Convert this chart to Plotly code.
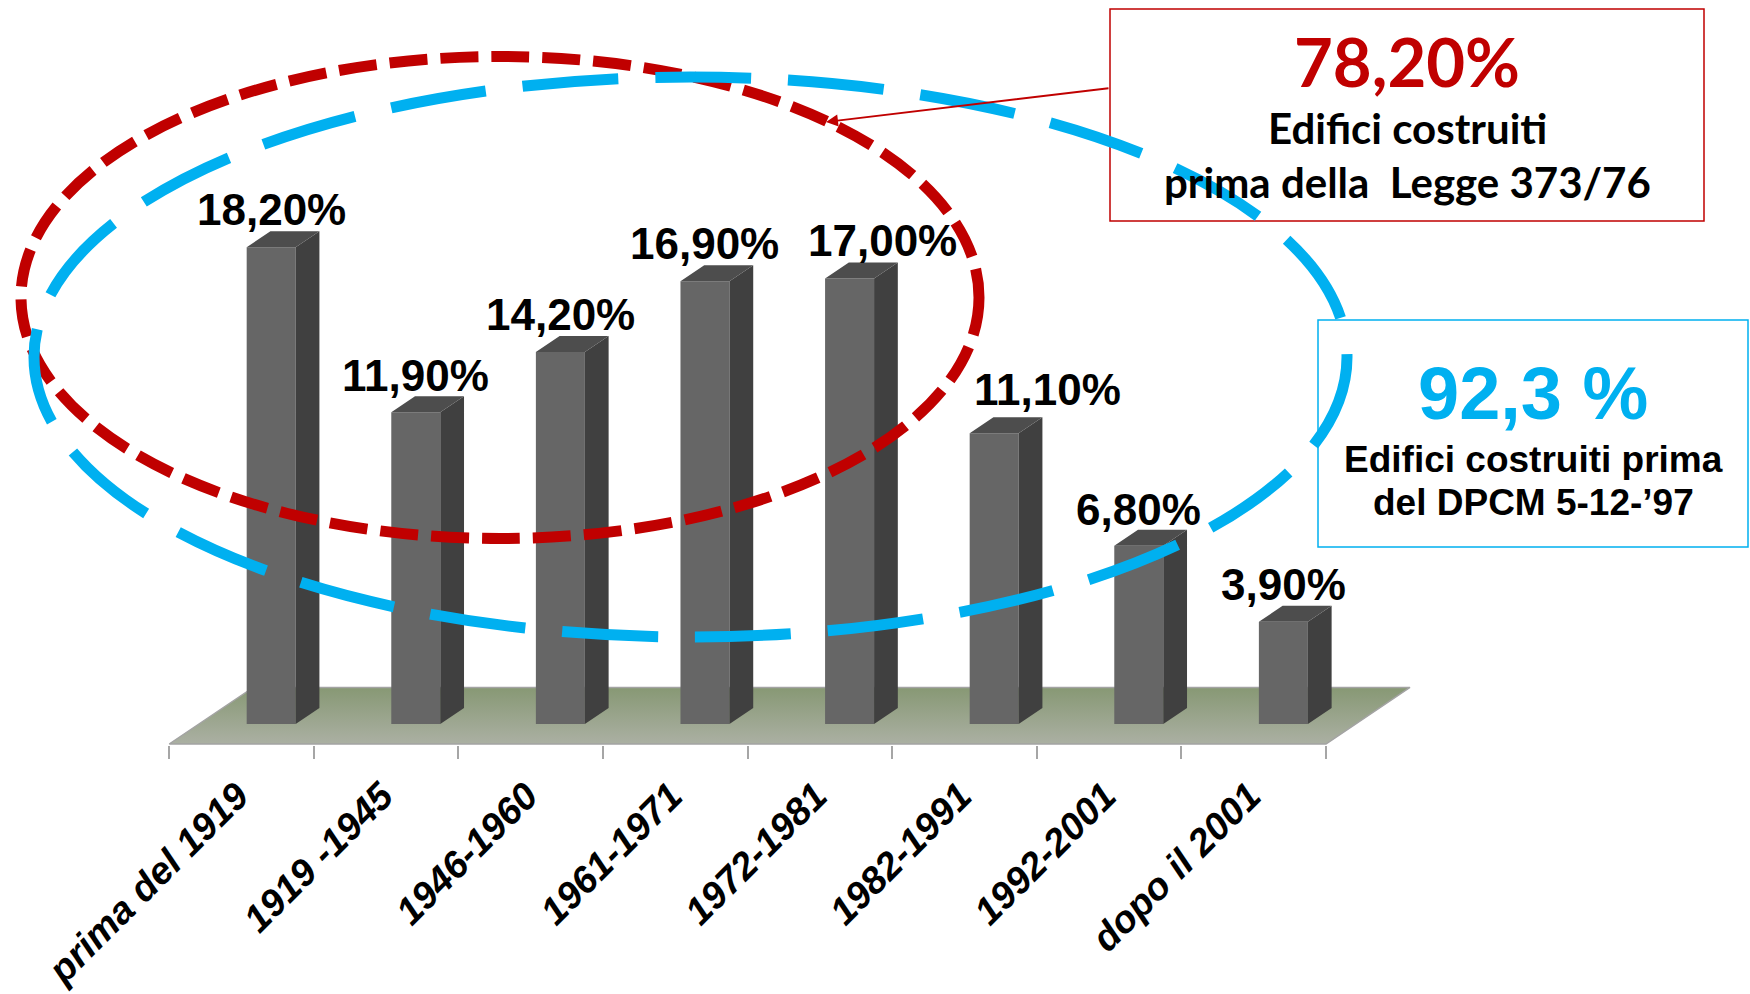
import plotly.graph_objects as go

# --- data -------------------------------------------------------------
categories = ["prima del 1919", "1919 -1945", "1946-1960", "1961-1971",
              "1972-1981", "1982-1991", "1992-2001", "dopo il 2001"]
shares = [18.2, 11.9, 14.2, 16.9, 17.0, 11.1, 6.8, 3.9]

# buildings before Law 373/76 = first five periods
pre_law_count = 5
pre_dpcm_share_text = "92,3 %"

# --- canvas / projection (pixels) --------------------------------------
W, H = 1750, 994
X0, SX = 241.5, 144.6     # px of category 0 at floor front, px per category
Y0, SY = 744.0, 26.2      # px of value 0 at floor front, px per percent point
PLOT_BOTTOM = 745
OBL = 1.484               # oblique x-shift per px of depth
FLOOR_DEPTH = 56.6
BAR_FRONT = 20.0
BAR_DEPTH = 16.0
BAR_W = 49.0


def xd(px):
    return (px - X0) / SX


def yd(py):
    return (Y0 - py) / SY


def pct(v):
    return f"{v:.2f}".replace(".", ",") + "%"


FRONT = "#666666"
SIDE = "#404040"
TOP = "#4d4d4d"
RED = "#c00000"
BLUE = "#00b0f0"
ARIAL = "Liberation Sans, Arial, sans-serif"
CALIBRI = "Lato, Carlito, Calibri, sans-serif"

fig = go.Figure()

# floor
fdx, fdy = FLOOR_DEPTH * OBL / SX, FLOOR_DEPTH / SY
n = len(categories)
fig.add_trace(go.Scatter(
    x=[-0.5, n - 0.5, n - 0.5 + fdx, -0.5 + fdx, -0.5],
    y=[0, 0, fdy, fdy, 0],
    mode="lines", fill="toself",
    line=dict(color="#a3a3a3", width=1.5),
    fillgradient=dict(type="vertical",
                      colorscale=[[0, "#abb0a3"], [1, "#879874"]]),
    hoverinfo="skip", showlegend=False))

# bars: front, side and top faces of each prism
bx0 = BAR_FRONT * OBL / SX
by0 = BAR_FRONT / SY
bw = BAR_W / SX
ddx, ddy = BAR_DEPTH * OBL / SX, BAR_DEPTH / SY
centers = [i + bx0 for i in range(n)]

fx, fy, sx, sy, tx, ty = [], [], [], [], [], []
for c, v in zip(centers, shares):
    xl, xr = c - bw / 2, c + bw / 2
    top = by0 + v
    fx += [xl, xr, xr, xl, xl, None]
    fy += [by0, by0, top, top, by0, None]
    sx += [xr, xr + ddx, xr + ddx, xr, xr, None]
    sy += [by0, by0 + ddy, top + ddy, top, by0, None]
    tx += [xl, xr, xr + ddx, xl + ddx, xl, None]
    ty += [top, top, top + ddy, top + ddy, top, None]

for px_, py_, col in ((fx, fy, FRONT), (sx, sy, SIDE), (tx, ty, TOP)):
    fig.add_trace(go.Scatter(x=px_, y=py_, mode="lines", fill="toself",
                             fillcolor=col, line=dict(width=0, color=col),
                             hoverinfo="skip", showlegend=False))

# value labels (px nudges for the two crowded ones)
label_dx = [0, 0, 0, 0, 33, 53, 0, 0]
label_dy = [38, 37, 37, 38, 38, 44, 36, 37]
annotations = []
for c, v, dx, dy in zip(centers, shares, label_dx, label_dy):
    annotations.append(dict(
        x=c, y=by0 + v, xref="x", yref="y", text=pct(v), showarrow=False,
        xshift=dx, yshift=dy, xanchor="center", yanchor="middle",
        font=dict(family=ARIAL, size=44, color="black", weight="bold")))

# callout boxes
pre_law_total = round(sum(shares[:pre_law_count]), 2)
box_text = [
    (pct(pre_law_total), 1407, 61, CALIBRI, 67, RED),
    ("Edifici costruiti", 1407, 128, CALIBRI, 42, "black"),
    ("prima della&nbsp;&nbsp;Legge 373/76", 1407, 182, CALIBRI, 42, "black"),
    (pre_dpcm_share_text, 1533, 393, ARIAL, 74, BLUE),
    ("Edifici costruiti prima", 1533, 459, ARIAL, 37, "black"),
    ("del DPCM 5-12-\u201997", 1533, 502, ARIAL, 37, "black"),
]
for t, px, py, fam, size, col in box_text:
    annotations.append(dict(
        x=xd(px), y=yd(py), xref="x", yref="y", text=t, showarrow=False,
        xanchor="center", yanchor="middle",
        font=dict(family=fam, size=size, color=col, weight="bold")))

# leader arrow from the red box to the red ellipse
annotations.append(dict(
    x=xd(826), y=yd(122), ax=xd(1110), ay=yd(88), axref="x", ayref="y",
    xref="x", yref="y", text="", showarrow=True, arrowhead=2,
    arrowsize=1.2, arrowwidth=2, arrowcolor=RED))

shapes = [
    dict(type="rect", xref="x", yref="y", x0=xd(1110), x1=xd(1704),
         y0=yd(9), y1=yd(221), line=dict(color=RED, width=1.5),
         layer="below"),
    dict(type="rect", xref="x", yref="y", x0=xd(1318), x1=xd(1748),
         y0=yd(320), y1=yd(547), line=dict(color=BLUE, width=1.5),
         layer="below"),
    # ellipses around the groups of periods
    dict(type="circle", xref="x", yref="y",
         x0=xd(500 - 479), x1=xd(500 + 479),
         y0=yd(297.5 - 241), y1=yd(297.5 + 241),
         line=dict(color=RED, width=11, dash="38px,13px"), layer="above"),
    dict(type="circle", xref="x", yref="y",
         x0=xd(690.5 - 656.5), x1=xd(690.5 + 656.5),
         y0=yd(357 - 280), y1=yd(357 + 280),
         line=dict(color=BLUE, width=11, dash="96px,37px"), layer="above"),
]

fig.update_layout(
    template="none",
    width=W, height=H,
    margin=dict(l=0, r=0, t=0, b=H - PLOT_BOTTOM, pad=0, autoexpand=False),
    paper_bgcolor="white", plot_bgcolor="white",
    showlegend=False,
    xaxis=dict(range=[xd(0), xd(W)], showgrid=False, zeroline=False,
               showline=False, tickvals=[i - 0.5 for i in range(n + 1)],
               ticks="outside", ticklen=13, tickwidth=1.5,
               tickcolor="#a6a6a6", showticklabels=False, fixedrange=True,
               automargin=False),
    xaxis2=dict(range=[xd(0), xd(W)], overlaying="x", anchor="y",
                side="bottom", showgrid=False, zeroline=False,
                showline=False, ticks="", tickvals=list(range(n)),
                ticktext=categories, tickangle=-45, ticklabelstandoff=20,
                ticklabelshift=-4,
                tickfont=dict(family=ARIAL, size=38, color="black",
                              weight="bold", style="italic"),
                fixedrange=True, automargin=False),
    yaxis=dict(range=[yd(PLOT_BOTTOM), yd(0)], visible=False,
               showgrid=False, zeroline=False, fixedrange=True,
               automargin=False),
    annotations=annotations,
    shapes=shapes,
)

# category labels live on the overlaid axis
fig.add_trace(go.Scatter(x=list(range(n)), y=[None] * n, xaxis="x2",
                         yaxis="y", mode="markers", showlegend=False,
                         hoverinfo="skip"))

fig.write_html("out.html", config={"displayModeBar": False})
